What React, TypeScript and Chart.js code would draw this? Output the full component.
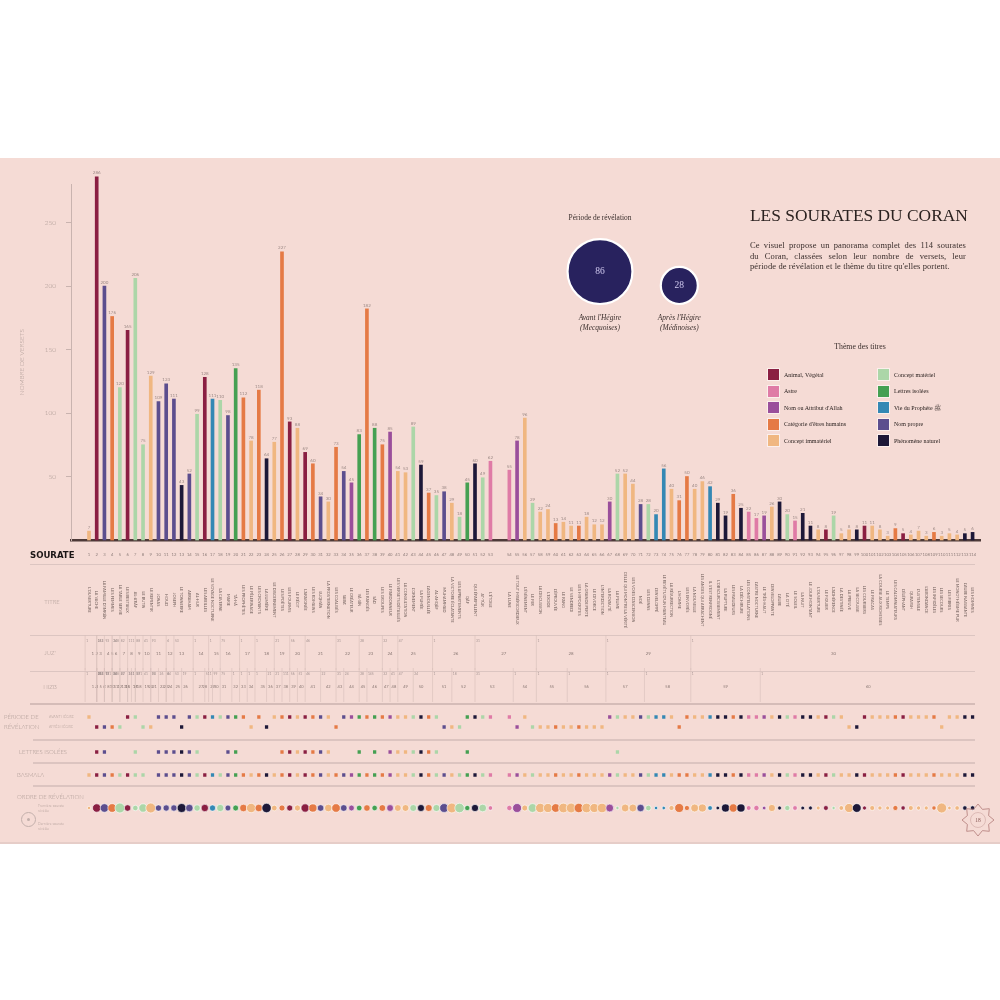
import React, { useEffect, useRef } from "react";
import { Chart, registerables } from "chart.js";

Chart.register(...registerables);

// ================= DATA =================
const SURAH_NUMBERS: number[] = Array.from({ length: 114 }, (_, i) => i + 1);

const VERSES = [
  7, 286, 200, 176, 120, 165, 206, 75, 129, 109,
  123, 111, 43, 52, 99, 128, 111, 110, 98, 135,
  112, 78, 118, 64, 77, 227, 93, 88, 69, 60,
  34, 30, 73, 54, 45, 83, 182, 88, 75, 85,
  54, 53, 89, 59, 37, 35, 38, 29, 18, 45,
  60, 49, 62, 55, 78, 96, 29, 22, 24, 13,
  14, 11, 11, 18, 12, 12, 30, 52, 52, 44,
  28, 28, 20, 56, 40, 31, 50, 40, 46, 42,
  29, 19, 36, 25, 22, 17, 19, 26, 30, 20,
  15, 21, 11, 8, 8, 19, 5, 8, 8, 11,
  11, 8, 3, 9, 5, 4, 7, 3, 6, 3,
  5, 4, 5, 6,
];

const THEME_NAMES = [
  "Animal, Végétal",
  "Astre",
  "Nom ou Attribut d'Allah",
  "Catégorie d'êtres humains",
  "Concept immatériel",
  "Concept matériel",
  "Lettres isolées",
  "Vie du Prophète ﷺ",
  "Nom propre",
  "Phénomène naturel",
];
const THEME_COLORS = [
  "#8a1f42", "#df7ba6", "#9a4f9b", "#e57a45", "#f0b781",
  "#acd6a8", "#45a052", "#3488b4", "#5c4e8e", "#1d1838",
];

// theme index per surah (0..9, see THEME_NAMES)
const SURAH_THEMES = [
  4, 0, 8, 3, 5, 0, 5, 5, 4, 8,
  8, 8, 9, 8, 5, 0, 7, 5, 8, 6,
  3, 4, 3, 9, 4, 3, 0, 4, 0, 3,
  8, 4, 3, 8, 2, 6, 3, 6, 3, 2,
  4, 4, 5, 9, 3, 5, 8, 4, 5, 6,
  9, 5, 1, 1, 2, 4, 5, 4, 4, 3,
  4, 4, 3, 4, 4, 4, 2, 5, 4, 4,
  8, 5, 7, 7, 4, 3, 3, 4, 4, 7,
  9, 9, 3, 9, 1, 1, 2, 4, 9, 5,
  1, 9, 9, 4, 0, 5, 4, 4, 9, 0,
  4, 4, 4, 3, 0, 4, 4, 4, 3, 4,
  4, 4, 9, 9,
];

const SURAH_TITLES = [
  "L'OUVERTURE", "LA VACHE", "LA FAMILLE D'IMRÂN", "LES FEMMES", "LA TABLE SERVIE",
  "LES BESTIAUX", "AL-A'RÂF", "LE BUTIN", "LE REPENTIR", "JONAS",
  "HOUD", "JOSEPH", "LE TONNERRE", "ABRAHAM", "AL-HIJR",
  "LES ABEILLES", "LE VOYAGE NOCTURNE", "LA CAVERNE", "MARIE", "TÂ-HÂ",
  "LES PROPHÈTES", "LE PÈLERINAGE", "LES CROYANTS", "LA LUMIÈRE", "LE DISCERNEMENT",
  "LES POÈTES", "LES FOURMIS", "LE RÉCIT", "L'ARAIGNÉE", "LES ROMAINS",
  "LUQMÂN", "LA PROSTERNATION", "LES COALISÉS", "SABA'", "LE CRÉATEUR",
  "YÂ-SÎN", "LES RANGÉS", "SÂD", "LES GROUPES", "LE PARDONNEUR",
  "LES VERSETS DÉTAILLÉS", "LA CONSULTATION", "L'ORNEMENT", "LA FUMÉE", "L'AGENOUILLÉE",
  "AL-AHQÂF", "MUHAMMAD", "LA VICTOIRE ÉCLATANTE", "LES APPARTEMENTS", "QÂF",
  "QUI ÉPARPILLENT", "AT-TÛR", "L'ÉTOILE", "LA LUNE", "LE TOUT MISÉRICORDIEUX",
  "L'ÉVÉNEMENT", "LE FER", "LA DISCUSSION", "L'EXODE", "L'ÉPROUVÉE",
  "LE RANG", "LE VENDREDI", "LES HYPOCRITES", "LA GRANDE PERTE", "LE DIVORCE",
  "L'INTERDICTION", "LA ROYAUTÉ", "LA PLUME", "CELLE QUI MONTRE LA VÉRITÉ", "LES VOIES D'ASCENSION",
  "NOÉ", "LES DJINNS", "L'ENVELOPPÉ", "LE REVÊTU D'UN MANTEAU", "LA RÉSURRECTION",
  "L'HOMME", "LES ENVOYÉS", "LA NOUVELLE", "LES ANGES QUI ARRACHENT", "IL S'EST RENFROGNÉ",
  "L'OBSCURCISSEMENT", "LA RUPTURE", "LES FRAUDEURS", "LA DÉCHIRURE", "LES CONSTELLATIONS",
  "L'ASTRE NOCTURNE", "LE TRÈS-HAUT", "L'ENVELOPPANTE", "L'AUBE", "LA CITÉ",
  "LE SOLEIL", "LA NUIT", "LE JOUR MONTANT", "L'OUVERTURE", "LE FIGUIER",
  "L'ADHÉRENCE", "LA DESTINÉE", "LA PREUVE", "LA SECOUSSE", "LES COURSIERS",
  "LE FRACAS", "LA COURSE AUX RICHESSES", "LE TEMPS", "LES CALOMNIATEURS", "L'ÉLÉPHANT",
  "QURAYSH", "L'USTENSILE", "L'ABONDANCE", "LES INFIDÈLES", "LES SECOURS",
  "LES FIBRES", "LE MONOTHÉISME PUR", "L'AUBE NAISSANTE", "LES HOMMES",
];

const MEDINAN_SURAHS = [2, 3, 4, 5, 8, 9, 13, 22, 24, 33, 47, 48, 49, 55, 57, 58, 59, 60, 61, 62, 63, 64, 65, 66, 76, 98, 99, 110];
const MUQATTAAT_SURAHS = [2, 3, 7, 10, 11, 12, 13, 14, 15, 19, 20, 26, 27, 28, 29, 30, 31, 32, 36, 38, 40, 41, 42, 43, 44, 45, 46, 50, 68];
const SURAHS_WITHOUT_BASMALA = [9];

// chronological order of revelation (surah numbers)
const REVELATION_ORDER = [
  96, 68, 73, 74, 1, 111, 81, 87, 92, 89, 93, 94, 103, 100, 108, 102, 107, 109, 105, 113,
  114, 112, 53, 80, 97, 91, 85, 95, 106, 101, 75, 104, 77, 50, 90, 86, 54, 38, 7, 72,
  36, 25, 35, 19, 20, 56, 26, 27, 28, 17, 10, 11, 12, 15, 6, 37, 31, 34, 39, 40,
  41, 42, 43, 44, 45, 46, 51, 88, 18, 16, 71, 14, 21, 23, 32, 52, 67, 69, 70, 78,
  79, 82, 84, 30, 29, 83, 2, 8, 3, 33, 60, 4, 99, 57, 47, 13, 55, 76, 65, 98,
  59, 24, 22, 63, 58, 49, 66, 64, 61, 62, 48, 5, 9, 110,
];

const JUZ_START_SURAH = [1, 2, 2, 3, 4, 4, 5, 6, 7, 8, 9, 11, 12, 15, 17, 18, 21, 23, 25, 27, 29, 33, 36, 39, 41, 46, 51, 58, 67, 78];
const JUZ_START_VERSE = [1, 142, 253, 93, 24, 148, 82, 111, 88, 41, 93, 6, 53, 1, 1, 75, 1, 1, 21, 56, 46, 31, 28, 32, 47, 1, 31, 1, 1, 1];

const HIZB_START_SURAH = [1, 2, 2, 2, 2, 3, 3, 3, 4, 4, 4, 5, 5, 6, 6, 7, 7, 7, 8, 9, 9, 10, 11, 11, 12, 13, 15, 16, 17, 17, 18, 20, 21, 22, 23, 24, 25, 26, 27, 28, 29, 31, 33, 34, 36, 37, 39, 40, 41, 43, 46, 48, 51, 55, 58, 62, 67, 72, 78, 87];
const HIZB_START_VERSE = [1, 75, 142, 203, 253, 15, 93, 171, 24, 88, 148, 27, 82, 36, 111, 1, 88, 171, 41, 34, 93, 26, 6, 84, 53, 19, 1, 51, 1, 99, 75, 1, 1, 1, 1, 21, 21, 111, 56, 51, 46, 22, 31, 24, 28, 145, 32, 41, 47, 24, 1, 18, 31, 1, 1, 1, 1, 1, 1, 1];

const PERIOD_ROWS = ["AVANT HÉGIRE", "APRÈS HÉGIRE"];
const PERIOD_COUNTS = [86, 28];
const PERIOD_CAPTIONS = [["Avant l'Hégire", "(Mecquoises)"], ["Après l'Hégire", "(Médinoises)"]];
const Y_TICKS = [50, 100, 150, 200, 250];

const DESCRIPTION_LINES = [
  "Ce visuel propose un panorama complet des 114 sourates",
  "du Coran, classées selon leur nombre de versets, leur",
  "période de révélation et le thème du titre qu'elles portent.",
];

// ================= LAYOUT =================
const GUTTER = 1.45; // book fold between surah 53 and 54
const X_MIN = -1.33;
const X_MAX = 116.45;
const PAD_L = 71;
const PAD_R = 19.7;
const pos = (s: number) => s + (s > 53 ? GUTTER : 0);
const surahAt = (v: number) => Math.round(v > 53 + GUTTER / 2 ? v - GUTTER : v);
const themeColor = (s: number) => THEME_COLORS[SURAH_THEMES[s - 1]];
const spanEnd = (starts: number[], verses: number[], k: number) =>
  k === starts.length - 1 ? 114 : verses[k + 1] === 1 ? starts[k + 1] - 1 : starts[k + 1];
const boundaryX = (s: number, v: number) => (v === 1 ? pos(s) - 0.5 : pos(s));

const GREY = "#ab9993";

// ================= PLUGINS =================
const valueLabels = {
  id: "valueLabels",
  afterDatasetsDraw(chart: any) {
    const ctx = chart.ctx;
    const meta = chart.getDatasetMeta(0);
    ctx.save();
    ctx.font = "400 4.5px Lato";
    ctx.fillStyle = "#9d8a86";
    ctx.textAlign = "center";
    ctx.textBaseline = "bottom";
    meta.data.forEach((el: any, i: number) => {
      ctx.fillText(String(VERSES[i]), el.x, el.y - 1.5);
    });
    ctx.restore();
  },
};

const rowText = {
  id: "rowText",
  afterDatasetsDraw(chart: any) {
    const ctx = chart.ctx;
    chart.data.datasets.forEach((ds: any, di: number) => {
      const meta = chart.getDatasetMeta(di);
      ctx.save();
      if (ds.vlines) {
        ctx.strokeStyle = ds.lineColor || "#d6bfbb";
        ctx.lineWidth = 0.6;
        meta.data.forEach((el: any) => {
          ctx.beginPath();
          ctx.moveTo(el.x, chart.chartArea.top + 1);
          ctx.lineTo(el.x, chart.height - 1);
          ctx.stroke();
        });
      }
      if (ds.texts) {
        ctx.font = `${ds.textWeight || 400} ${ds.textSize}px Lato`;
        ctx.fillStyle = ds.textColor;
        ctx.textAlign = ds.textAlign || "center";
        ctx.textBaseline = "middle";
        meta.data.forEach((el: any, i: number) => {
          if (ds.vertical) {
            ctx.save();
            ctx.translate(el.x, el.y);
            ctx.rotate(Math.PI / 2);
            ctx.fillText(ds.texts[i], 0, 0);
            ctx.restore();
          } else {
            ctx.fillText(ds.texts[i], el.x + (ds.textDx || 0), el.y);
          }
        });
      }
      ctx.restore();
    });
  },
};

const bubbleText = {
  id: "bubbleText",
  afterDatasetsDraw(chart: any) {
    const ctx = chart.ctx;
    const meta = chart.getDatasetMeta(0);
    ctx.save();
    ctx.textAlign = "center";
    ctx.textBaseline = "middle";
    meta.data.forEach((el: any, i: number) => {
      ctx.font = "400 9.5px 'Liberation Serif'";
      ctx.fillStyle = "#cfc8ee";
      ctx.fillText(String(PERIOD_COUNTS[i]), el.x, el.y);
      ctx.font = "italic 400 7.4px 'Liberation Serif'";
      ctx.fillStyle = "#3a2e2c";
      ctx.fillText(PERIOD_CAPTIONS[i][0], el.x, chart.chartArea.bottom + 14);
      ctx.fillText(PERIOD_CAPTIONS[i][1], el.x, chart.chartArea.bottom + 24);
    });
    ctx.restore();
  },
};

// ================= CONFIGS =================
function mainConfig(): any {
  return {
    type: "bar",
    data: {
      datasets: [
        {
          data: VERSES.map((v, i) => ({ x: pos(SURAH_NUMBERS[i]), y: v })),
          backgroundColor: SURAH_NUMBERS.map((s) => themeColor(s)),
          barThickness: 3,
          borderWidth: 0,
          clip: false,
        },
      ],
    },
    options: {
      responsive: false,
      animation: false,
      events: [],
      layout: { autoPadding: false, padding: { top: 26.4, left: 14, right: PAD_R, bottom: 0 } },
      plugins: { legend: { display: false }, tooltip: { enabled: false } },
      scales: {
        x: {
          type: "linear",
          min: X_MIN,
          max: X_MAX,
          offset: false,
          afterBuildTicks: (s: any) => {
            s.ticks = SURAH_NUMBERS.map((n) => ({ value: pos(n) }));
          },
          afterFit: (s: any) => {
            s.height = 22;
          },
          ticks: {
            autoSkip: false,
            maxRotation: 0,
            minRotation: 0,
            padding: 12.5,
            font: { size: 4.2, family: "Lato" },
            color: "#8d7c79",
            callback: (v: any) => String(surahAt(Number(v))),
          },
          grid: { display: false, drawTicks: false, offset: false },
          border: { display: true, color: "#4d3a38", width: 2.5 },
        },
        y: {
          type: "linear",
          min: 0,
          max: 280,
          afterBuildTicks: (s: any) => {
            s.ticks = Y_TICKS.map((v) => ({ value: v }));
          },
          afterFit: (s: any) => {
            s.width = 57;
          },
          ticks: { padding: 10, font: { size: 6.5, family: "Lato", weight: "300" }, color: GREY },
          grid: { drawOnChartArea: false, drawTicks: true, tickLength: 5, color: "#c9b3af" },
          border: { display: true, color: "#c9b3af", width: 1 },
          title: {
            display: true,
            text: "NOMBRE DE VERSETS",
            font: { size: 6.5, family: "Lato", weight: "300" },
            color: GREY,
            padding: 4,
          },
        },
      },
    },
    plugins: [valueLabels],
  };
}

function rowConfig(yLabels: string[], datasets: any[], padBottom = 0): any {
  return {
    type: "scatter",
    data: { datasets },
    options: {
      responsive: false,
      animation: false,
      events: [],
      layout: { autoPadding: false, padding: { left: PAD_L, right: PAD_R, top: 0, bottom: padBottom } },
      plugins: { legend: { display: false }, tooltip: { enabled: false } },
      scales: {
        x: { type: "linear", min: X_MIN, max: X_MAX, display: false },
        y: { type: "category", labels: yLabels, offset: true, display: false },
      },
    },
    plugins: [rowText],
  };
}

function titlesConfig() {
  return rowConfig(["TITRE"], [
    {
      data: SURAH_NUMBERS.map((n) => ({ x: pos(n), y: "TITRE" })),
      pointRadius: 0,
      texts: SURAH_TITLES,
      vertical: true,
      textSize: 3.9,
      textColor: "#75635f",
    },
  ]);
}

function divisionConfig(starts: number[], verses: number[], size: number, padBottom: number) {
  const numbers = starts.map((_, k) => String(k + 1));
  return rowConfig(
    ["début", "numéro"],
    [
      {
        data: starts.map((s, k) => ({ x: (pos(s) + pos(spanEnd(starts, verses, k))) / 2, y: "numéro" })),
        pointRadius: 0,
        texts: numbers,
        textSize: size,
        textColor: "#8a7874",
        textWeight: 400,
      },
      {
        data: starts.map((s, k) => ({ x: boundaryX(s, verses[k]), y: "début" })),
        pointRadius: 0,
        texts: verses.map(String),
        textSize: 3.3,
        textColor: "#a39290",
        textAlign: "left",
        textDx: 1,
        vlines: true,
      },
    ],
    padBottom
  );
}

function periodConfig() {
  return rowConfig(PERIOD_ROWS, [
    {
      data: SURAH_NUMBERS.map((n) => ({ x: pos(n), y: MEDINAN_SURAHS.includes(n) ? PERIOD_ROWS[1] : PERIOD_ROWS[0] })),
      pointStyle: "rect",
      pointRadius: 2.3,
      pointBorderWidth: 0,
      pointBackgroundColor: SURAH_NUMBERS.map((n) => themeColor(n)),
    },
  ]);
}

function flagRowConfig(label: string, surahs: number[]) {
  return rowConfig([label], [
    {
      data: surahs.map((n) => ({ x: pos(n), y: label })),
      pointStyle: "rect",
      pointRadius: 2.3,
      pointBorderWidth: 0,
      pointBackgroundColor: surahs.map((n) => themeColor(n)),
    },
  ]);
}

function orderConfig() {
  return rowConfig(["ORDRE"], [
    {
      data: SURAH_NUMBERS.map((n) => ({ x: pos(n), y: "ORDRE" })),
      pointStyle: "circle",
      pointRadius: SURAH_NUMBERS.map((n) => 1.6 + (3.4 * (REVELATION_ORDER.indexOf(n) + 1)) / 114),
      pointBorderWidth: 0.8,
      pointBorderColor: "rgba(255,255,255,0.75)",
      pointBackgroundColor: SURAH_NUMBERS.map((n) => themeColor(n)),
    },
  ]);
}

function bubbleConfig(): any {
  return {
    type: "bubble",
    data: {
      datasets: [
        {
          data: PERIOD_COUNTS.map((v, i) => ({ x: i, y: 3.5 * Math.sqrt(v), r: 3.5 * Math.sqrt(v) })),
          backgroundColor: "#28225e",
          borderColor: "#ffffff",
          borderWidth: 2.2,
          clip: false,
        },
      ],
    },
    options: {
      responsive: false,
      animation: false,
      events: [],
      layout: { autoPadding: false, padding: { left: 20.35, right: 21.05, top: 0, bottom: 41 } },
      plugins: { legend: { display: false }, tooltip: { enabled: false } },
      scales: {
        x: { type: "linear", min: -0.5, max: 1.5, display: false },
        y: { type: "linear", min: 0, max: 79, display: false },
      },
    },
    plugins: [bubbleText],
  };
}

// ================= COMPONENTS =================
function ChartBox({ left, top, width, height, make }: any) {
  const ref = useRef<HTMLCanvasElement>(null);
  useEffect(() => {
    const chart = new Chart(ref.current as HTMLCanvasElement, make());
    return () => chart.destroy();
  }, []);
  return (
    <canvas
      ref={ref}
      width={width}
      height={height}
      style={{ position: "absolute", left, top, width, height }}
    />
  );
}

function Txt({ x, y, s, c = GREY, w = 300, f = "Lato, sans-serif", al = "left", it = false, ls = 0, children }: any) {
  const tx = al === "center" ? "-50%" : al === "right" ? "-100%" : "0";
  return (
    <div
      style={{
        position: "absolute",
        left: x,
        top: y,
        transform: `translate(${tx}, -50%)`,
        fontSize: s,
        color: c,
        fontWeight: w,
        fontFamily: f,
        fontStyle: it ? "italic" : "normal",
        letterSpacing: ls,
        whiteSpace: "nowrap",
        lineHeight: 1,
      }}
    >
      {children}
    </div>
  );
}

function Line({ y, x = 30, w = 945, h = 1, c = "#dcc5c1" }: any) {
  return <div style={{ position: "absolute", left: x, top: y, width: w, height: h, background: c }} />;
}

function Star() {
  const pts: string[] = [];
  for (let k = 0; k < 16; k++) {
    const r = k % 2 === 0 ? 16 : 11.5;
    const a = (Math.PI * 2 * k) / 16 - Math.PI / 2;
    pts.push(`${(r * Math.cos(a)).toFixed(2)},${(r * Math.sin(a)).toFixed(2)}`);
  }
  return (
    <svg style={{ position: "absolute", left: 960, top: 802 }} width={36} height={36} viewBox="-18 -18 36 36">
      <polygon points={pts.join(" ")} fill="none" stroke="#b98682" strokeWidth={0.9} />
      <circle r={7.5} fill="none" stroke="#c49a96" strokeWidth={0.5} />
      <text x={0} y={2} fontSize={5.5} textAnchor="middle" fill="#8a5a56" fontFamily="Liberation Serif">
        18
      </text>
    </svg>
  );
}

const SERIF = "'Liberation Serif', 'DejaVu Serif', serif";

export default function App() {
  const legendRows = [0, 1, 2, 3, 4];
  return (
    <div style={{ position: "absolute", left: 0, top: 0, width: 1000, height: 1000, background: "#ffffff", overflow: "hidden" }}>
      {/* pink panel */}
      <div style={{ position: "absolute", left: 0, top: 158, width: 1000, height: 686, background: "#f5dbd5" }} />
      <Line y={842} x={0} w={1000} h={2} c="#e6cdc8" />

      {/* separators */}
      <Line y={564} />
      <Line y={635} />
      <Line y={671} />
      <Line y={703} h={2} c="#d5bcb8" />
      <Line y={739} x={33} w={942} h={2} c="#dcc4c0" />
      <Line y={762} x={33} w={942} h={2} c="#dcc4c0" />
      <Line y={785} x={33} w={942} h={2} c="#dcc4c0" />

      {/* charts */}
      <ChartBox left={0} top={158} width={1000} height={404} make={mainConfig} />
      <ChartBox left={0} top={566} width={1000} height={68} make={titlesConfig} />
      <ChartBox left={0} top={633.5} width={1000} height={37} make={() => divisionConfig(JUZ_START_SURAH, JUZ_START_VERSE, 4.4, 11)} />
      <ChartBox left={0} top={666.75} width={1000} height={36.25} make={() => divisionConfig(HIZB_START_SURAH, HIZB_START_VERSE, 4.0, 9.25)} />
      <ChartBox left={0} top={712} width={1000} height={20} make={periodConfig} />
      <ChartBox left={0} top={742} width={1000} height={20} make={() => flagRowConfig("LETTRES ISOLÉES", MUQATTAAT_SURAHS)} />
      <ChartBox
        left={0}
        top={765}
        width={1000}
        height={20}
        make={() => flagRowConfig("BASMALA", SURAH_NUMBERS.filter((n) => !SURAHS_WITHOUT_BASMALA.includes(n)))}
      />
      <ChartBox left={0} top={793} width={1000} height={30} make={orderConfig} />
      <ChartBox left={540} top={225} width={200} height={120} make={bubbleConfig} />

      {/* row labels */}
      <Txt x={30} y={555} s={9.5} c="#1c1616" w={700} f="'DejaVu Sans Condensed', 'DejaVu Sans', sans-serif">SOURATE</Txt>
      <Txt x={52} y={602} s={6} al="center">TITRE</Txt>
      <Txt x={50} y={653} s={6} al="center">JUZ'</Txt>
      <Txt x={50} y={687} s={6} al="center">HIZB</Txt>
      <Txt x={4} y={717} s={6}>PÉRIODE DE</Txt>
      <Txt x={4} y={727} s={6}>RÉVÉLATION</Txt>
      <Txt x={49} y={717} s={3.6}>AVANT HÉGIRE</Txt>
      <Txt x={49} y={727} s={3.6}>APRÈS HÉGIRE</Txt>
      <Txt x={43} y={752} s={6} al="center">LETTRES ISOLÉES</Txt>
      <Txt x={17} y={775} s={6}>BASMALA</Txt>
      <Txt x={17} y={797} s={6}>ORDRE DE RÉVÉLATION</Txt>
      <div style={{ position: "absolute", left: 21, top: 812, width: 13, height: 13, borderRadius: "50%", border: "1px solid #c2afab" }} />
      <div style={{ position: "absolute", left: 26.5, top: 817.5, width: 3, height: 3, borderRadius: "50%", background: "#c2afab" }} />
      <Txt x={38} y={806} s={3.6}>Première sourate</Txt>
      <Txt x={38} y={811} s={3.6}>révélée</Txt>
      <Txt x={38} y={824} s={3.6}>Dernière sourate</Txt>
      <Txt x={38} y={829} s={3.6}>révélée</Txt>
      <Star />

      {/* period bubbles title */}
      <Txt x={600} y={218} s={7.4} c="#3a2e2c" w={400} f={SERIF} al="center">Période de révélation</Txt>

      {/* title block */}
      <Txt x={750} y={216} s={17.4} c="#2b2220" w={400} f={SERIF}>LES SOURATES DU CORAN</Txt>
      {DESCRIPTION_LINES.map((line, i) => (
        <div
          key={i}
          style={{
            position: "absolute",
            left: 750,
            top: 245 + i * 10.7,
            width: 216,
            transform: "translateY(-50%)",
            fontSize: 8.5,
            letterSpacing: 0.1,
            lineHeight: 1,
            fontFamily: SERIF,
            color: "#3a2e2c",
            textAlign: "justify",
            textAlignLast: i < DESCRIPTION_LINES.length - 1 ? "justify" : "left",
            whiteSpace: "nowrap",
          }}
        >
          {line}
        </div>
      ))}

      {/* legend */}
      <Txt x={860} y={347} s={7.8} c="#3a2e2c" w={400} f={SERIF} al="center">Thème des titres</Txt>
      {legendRows.map((r) =>
        [0, 1].map((col) => {
          const k = col * 5 + r;
          const y = 374.5 + r * 16.5;
          const sx = col === 0 ? 768 : 878;
          return (
            <React.Fragment key={k}>
              <div
                style={{
                  position: "absolute",
                  left: sx,
                  top: y - 5.5,
                  width: 11,
                  height: 11,
                  background: THEME_COLORS[k],
                  boxShadow: "0 0 0 1px rgba(255,255,255,0.55)",
                }}
              />
              <Txt x={sx + 16} y={y} s={6} c="#2b2220" w={400} f={SERIF}>
                {THEME_NAMES[k]}
              </Txt>
            </React.Fragment>
          );
        })
      )}
    </div>
  );
}
